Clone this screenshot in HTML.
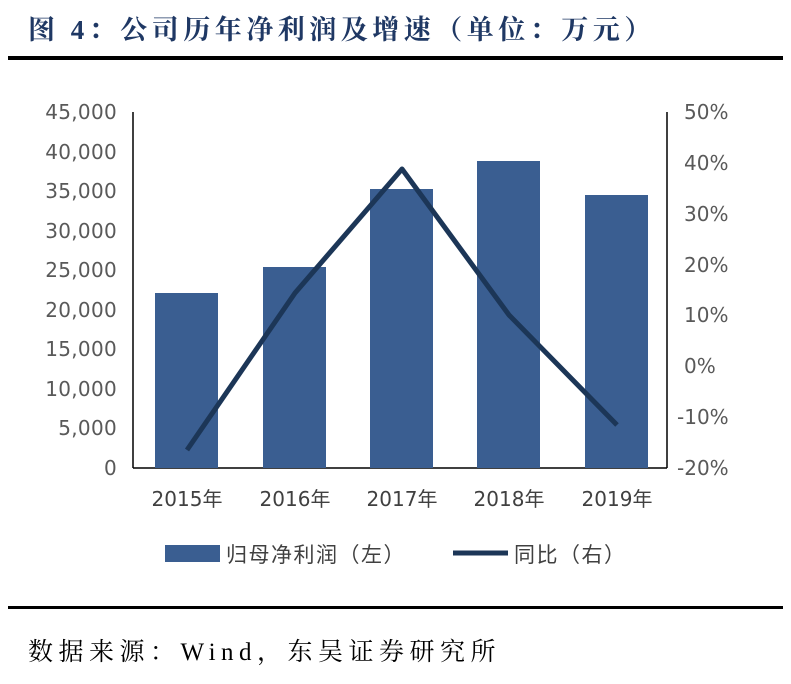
<!DOCTYPE html>
<html><head><meta charset="utf-8"><style>
body{margin:0;background:#fff;width:791px;height:679px;overflow:hidden}
</style></head><body>
<svg width="791" height="679" xmlns="http://www.w3.org/2000/svg" font-family="Liberation Sans, Noto Sans CJK SC, sans-serif">
<text x="28" y="39" font-family="Liberation Serif, Noto Serif CJK SC, serif" font-size="27" font-weight="bold" fill="#1f3864" letter-spacing="4.5">图 4：公司历年净利润及增速（单位：万元）</text>
<rect x="8" y="56" width="775" height="4" fill="#000"/>
<g font-size="20" fill="#595959" text-anchor="end" font-family="DejaVu Sans, sans-serif" letter-spacing="0.3">
<text x="117" y="119">45,000</text><text x="117" y="159">40,000</text><text x="117" y="198">35,000</text>
<text x="117" y="238">30,000</text><text x="117" y="277">25,000</text><text x="117" y="317">20,000</text>
<text x="117" y="356">15,000</text><text x="117" y="396">10,000</text><text x="117" y="435">5,000</text>
<text x="117" y="475">0</text>
</g>
<g font-size="20" fill="#595959" text-anchor="start" font-family="DejaVu Sans, sans-serif">
<text x="684" y="119">50%</text><text x="684" y="170">40%</text><text x="684" y="221">30%</text>
<text x="684" y="272">20%</text><text x="684" y="322">10%</text><text x="684" y="373">0%</text>
<text x="677" y="424">-10%</text><text x="677" y="475">-20%</text>
</g>
<line x1="133" y1="112" x2="133" y2="468" stroke="#000" stroke-width="1.5"/>
<line x1="667" y1="112" x2="667" y2="468" stroke="#000" stroke-width="1.5"/>
<line x1="133" y1="468" x2="667" y2="468" stroke="#000" stroke-width="1.5"/>
<g fill="#3a5e91">
<rect x="155" y="293" width="63" height="175"/>
<rect x="263" y="267" width="63" height="201"/>
<rect x="370" y="189" width="63" height="279"/>
<rect x="477" y="161" width="63" height="307"/>
<rect x="585" y="195" width="63" height="273"/>
</g>
<polyline points="187,450 295,293 402,169 509,315 617,425" fill="none" stroke="#1c3657" stroke-width="5" stroke-linejoin="round"/>
<g font-size="20" fill="#404040" text-anchor="middle" font-family="DejaVu Sans, Noto Sans CJK SC, sans-serif">
<text x="187" y="506">2015年</text><text x="295" y="506">2016年</text><text x="402" y="506">2017年</text>
<text x="509" y="506">2018年</text><text x="617" y="506">2019年</text>
</g>
<rect x="165" y="545" width="55" height="17" fill="#3a5e91"/>
<text x="226" y="562" font-size="21" fill="#404040" letter-spacing="1.5">归母净利润（左）</text>
<line x1="453" y1="553" x2="508" y2="553" stroke="#1c3657" stroke-width="5"/>
<text x="514" y="562" font-size="21" fill="#404040" letter-spacing="1.5">同比（右）</text>
<rect x="8" y="606" width="775" height="3" fill="#000"/>
<text x="28" y="660" font-family="Liberation Serif, Noto Serif CJK SC, serif" font-size="25" fill="#000" letter-spacing="5.5">数据来源：Wind，东吴证券研究所</text>
</svg>
</body></html>
